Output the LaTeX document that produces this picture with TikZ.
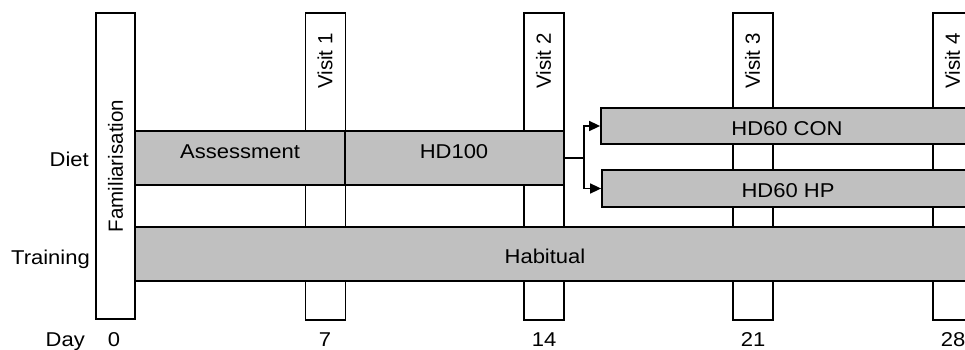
\documentclass[tikz,border=0pt]{standalone}
\usepackage{fontspec}
\setmainfont{Liberation Sans}
\newfontfamily\widefont[FakeStretch=1.1]{Liberation Sans}
\usetikzlibrary{arrows.meta}
\definecolor{barfill}{HTML}{C0C0C0}

\tikzset{
  slot/.style={draw, fill=white, line width=1.8pt, minimum width=39pt, minimum height=307pt, inner sep=0pt},
  bar/.style={draw, fill=barfill, line width=1.8pt, inner sep=0pt},
  lbl/.style={font=\widefont\fontsize{20}{24}\selectfont, inner sep=0pt},
  vlbl/.style={font=\fontsize{20.5}{24}\selectfont, inner sep=0pt, rotate=90},
}

\begin{document}
\begin{tikzpicture}[x=1pt, y=-1pt, >={Triangle[length=11pt,width=10pt]}]
  \useasboundingbox (0,0) rectangle (965,350);
  \clip (0,0) rectangle (965,350);
  % familiarisation and visit columns
  \node[slot, minimum height=306pt] (fam) at (115.5,166) {};
  \node[vlbl] (famtxt) at (fam.center) {Familiarisation};
  \foreach \n/\x in {1/325.5, 2/544, 3/753, 4/953}{
    \node[slot, minimum width=40pt] (visit\n) at (\x,166.5) {};
    \node[vlbl] (vtxt\n) at (\x-0.5,61) {Visit \n};
  }
  % diet row
  \node[bar, minimum width=210pt, minimum height=54pt] (assess) at (240,158) {};
  \node[bar, minimum width=219pt, minimum height=54pt] (hd100) at (454.5,158) {};
  \node[bar, minimum width=372pt, minimum height=36pt] (con) at (787,126) {};
  \node[bar, minimum width=371pt, minimum height=37pt] (hp) at (787.5,188.5) {};
  \node[lbl, anchor=base] (assesstxt) at (240,158) {Assessment};
  \node[lbl, anchor=base] (hd100txt) at (454,158) {HD100};
  \node[lbl, anchor=base] (context) at (787,135) {HD60 CON};
  \node[lbl, anchor=base] (hptxt) at (788,197) {HD60 HP};
  % training row
  \node[bar, minimum width=845pt, minimum height=54pt] (habit) at (557.5,254) {};
  \node[lbl, anchor=base] (habtxt) at (545,263) {Habitual};
  % split after HD100
  \draw[line width=1.6pt] (hd100.east) -- ++(19,0) coordinate (split);
  \draw[->, line width=1.6pt] (split) |- (con.west);
  \draw[->, line width=1.6pt] (split) |- (hp.west);
  % row labels and days
  \node[lbl, anchor=base east] (diet) at (89,166) {Diet};
  \node[lbl, anchor=base east] (training) at (90,264) {Training};
  \node[lbl, anchor=base east] (day) at (85,346) {Day};
  \foreach \d/\x/\y in {0/114/346, 7/325/346, 14/544/346.5, 21/753/346, 28/953/346}{
    \node[lbl, anchor=base] (day\d) at (\x,\y) {\d};
  }
\end{tikzpicture}
\end{document}
